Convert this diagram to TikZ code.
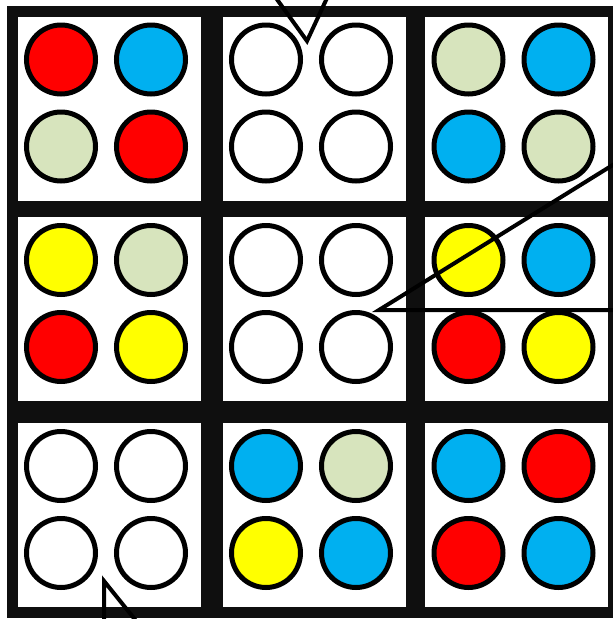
\documentclass[tikz,border=0pt]{standalone}
\usetikzlibrary{positioning}
\definecolor{gridBlack}{HTML}{0F0F0F}
\definecolor{dotRed}{HTML}{FF0000}
\definecolor{dotBlue}{HTML}{00B0F0}
\definecolor{dotGreen}{HTML}{D7E4BD}
\definecolor{dotYellow}{HTML}{FFFF00}

\begin{document}
\begin{tikzpicture}[x=1pt,y=-1pt,
        tile/.style={draw=gridBlack,line width=11pt,fill=white,minimum width=194pt,minimum height=195pt,inner sep=0pt},
        dot/.style={circle,draw=black,line width=5pt,minimum size=69pt,inner sep=0pt},
        tail/.style={draw=black,line width=4pt}]
  \useasboundingbox (0,0) rectangle (613,619);
  \clip (0,0) rectangle (613,619);
  \fill[white] (0,0) rectangle (613,619);
  % tiles, each with its four dots
  \foreach \t/\x/\y/\ca/\cb/\cc/\cd in {
      11/109/108.5/dotRed/dotBlue/dotGreen/dotRed,
      12/314/108.5/white/white/white/white,
      13/516.5/108.5/dotGreen/dotBlue/dotBlue/dotGreen,
      21/109/309/dotYellow/dotGreen/dotRed/dotYellow,
      22/314/309/white/white/white/white,
      23/516.5/309/dotYellow/dotBlue/dotRed/dotYellow,
      31/109/515/white/white/white/white,
      32/314/515/dotBlue/dotGreen/dotYellow/dotBlue,
      33/516.5/515/dotBlue/dotRed/dotRed/dotBlue}{
    \node[tile] (tile\t) at (\x,\y) {};
    \node[dot,fill=\ca] (dot\t-a) at (\x-48,\y-49) {};
    \node[dot,fill=\cb] (dot\t-b) at (\x+42,\y-49) {};
    \node[dot,fill=\cc] (dot\t-c) at (\x-48,\y+38) {};
    \node[dot,fill=\cd] (dot\t-d) at (\x+42,\y+38) {};
  }
  % speech bubble tails
  \coordinate (topTip) at (307,41);
  \coordinate (sideTip) at (379,310);
  \coordinate (lowTip) at (104,581);
  \draw[tail] (276,-2) -- (topTip) -- (327,-2);
  \draw[tail] (616,163) -- (sideTip) -- (616,310);
  \draw[tail] (104,622) -- (lowTip) -- (137,622);
\end{tikzpicture}
\end{document}
